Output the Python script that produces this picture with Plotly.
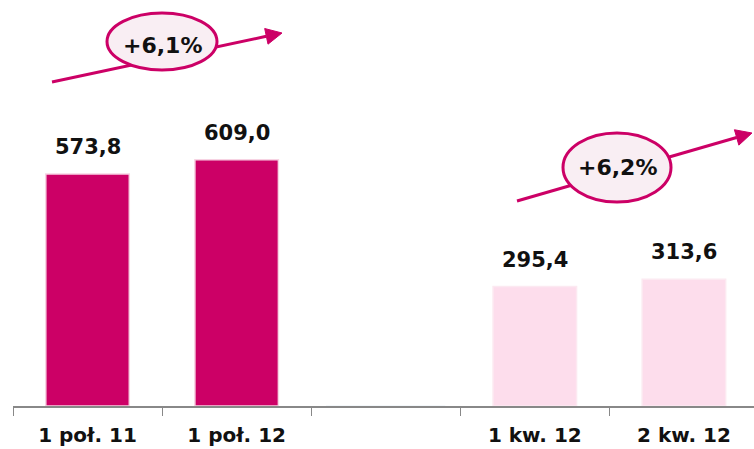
import plotly.graph_objects as go
import math

categories = ["1 poł. 11", "1 poł. 12", " ", "1 kw. 12", "2 kw. 12"]
half_cats = ["1 poł. 11", "1 poł. 12"]
half_vals = [573.8, 609.0]
q_cats = ["1 kw. 12", "2 kw. 12"]
q_vals = [295.4, 313.6]
growth_labels = ["+6,1%", "+6,2%"]

DARK = "#CC0066"
LIGHT = "#FDDDEC"

W, H = 754, 449
L, R, T, B = 13, 0, 0, 43
PW, PH = W - L - R, H - T - B

def px(x):
    return (x - L) / PW

def py(y):
    return (H - B - y) / PH

fig = go.Figure()
fig.add_trace(go.Bar(x=half_cats, y=half_vals, width=0.56,
                     marker=dict(color=DARK, line=dict(color="#F7D3E3", width=1.5)),
                     hoverinfo="skip"))
fig.add_trace(go.Bar(x=q_cats, y=q_vals, width=0.56,
                     marker=dict(color=LIGHT, line=dict(color="#FCE9F1", width=1.5)),
                     hoverinfo="skip"))
fig.add_trace(go.Bar(x=[" "], y=[0], marker_color="rgba(0,0,0,0)", hoverinfo="skip"))

def fmt(v):
    return f"{v:.1f}".replace(".", ",")

for c, v in list(zip(half_cats, half_vals)) + list(zip(q_cats, q_vals)):
    fig.add_annotation(x=c, y=v, text=f"<b>{fmt(v)}</b>", showarrow=False,
                       yanchor="middle", yshift=27,
                       font=dict(family="DejaVu Sans", size=21, color="#111"))

shapes = []
arrows = [
    dict(tail=(52, 82), tip=(282, 33), ell=(107, 13, 217, 70), txt=(162, 46)),
    dict(tail=(517, 201), tip=(752, 133), ell=(563, 133, 671, 202), txt=(617, 167)),
]
for a, lab in zip(arrows, growth_labels):
    (x0, y0), (x1, y1) = a["tail"], a["tip"]
    dx, dy = x1 - x0, y1 - y0
    n = math.hypot(dx, dy)
    ux, uy = dx / n, dy / n
    hl, hw = 16, 8
    bx, by = x1 - ux * hl, y1 - uy * hl
    shapes.append(dict(type="line", xref="paper", yref="paper",
                       x0=px(x0), y0=py(y0), x1=px(bx), y1=py(by),
                       line=dict(color=DARK, width=3)))
    p1 = (bx - uy * hw, by + ux * hw)
    p2 = (bx + uy * hw, by - ux * hw)
    path = f"M {px(x1)},{py(y1)} L {px(p1[0])},{py(p1[1])} L {px(p2[0])},{py(p2[1])} Z"
    shapes.append(dict(type="path", xref="paper", yref="paper", path=path,
                       fillcolor=DARK, line=dict(color=DARK, width=1)))
    ex0, ey0, ex1, ey1 = a["ell"]
    shapes.append(dict(type="circle", xref="paper", yref="paper",
                       x0=px(ex0), x1=px(ex1), y0=py(ey1), y1=py(ey0),
                       fillcolor="#F9EEF3", line=dict(color=DARK, width=3)))
    fig.add_annotation(xref="paper", yref="paper", x=px(a["txt"][0]), y=py(a["txt"][1]),
                       text=f"<b>{lab}</b>", showarrow=False,
                       xanchor="center", yanchor="middle",
                       font=dict(family="DejaVu Sans", size=22, color="#111"))

fig.update_layout(
    width=W, height=H,
    margin=dict(l=L, r=R, t=T, b=B),
    paper_bgcolor="white", plot_bgcolor="white",
    barmode="overlay", showlegend=False,
    shapes=shapes,
    xaxis=dict(type="category", categoryorder="array", categoryarray=categories,
               range=[-0.5, 4.47], tickson="boundaries", ticks="outside",
               ticklen=8, tickcolor="#888", showline=True, linecolor="#888",
               linewidth=1.5, showgrid=False, ticklabelstandoff=10,
               tickfont=dict(family="DejaVu Sans", size=20, color="#111"),
               tickvals=categories,
               ticktext=[f"<b>{c}</b>" if c.strip() else "" for c in categories]),
    yaxis=dict(range=[0, 1004], visible=False, showgrid=False),
)

fig.write_html("out.html")
